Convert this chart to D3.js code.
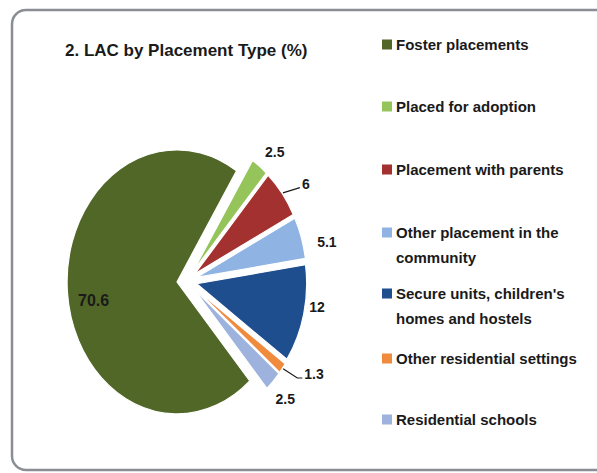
<!DOCTYPE html>
<meta charset="utf-8">
<style>
body { margin: 0; background: #fff; }
text { font-family: "Liberation Sans", Arial, sans-serif; fill: #1a1a1a; }
.title { font-size: 17px; font-weight: bold; }
.legend text { font-size: 15px; font-weight: bold; }
.label { font-size: 14px; font-weight: bold; }
.leader { fill: none; stroke: #1a1a1a; stroke-width: 1.2px; }
</style>
<svg width="597" height="473"></svg>
<script src="https://d3js.org/d3.v7.min.js"></script>
<script>
// data
var categories = ["Foster placements", "Placed for adoption", "Placement with parents",
    "Other placement in the community", "Secure units, children's homes and hostels",
    "Other residential settings", "Residential schools"];
var values = [70.6, 2.5, 6, 5.1, 12, 1.3, 2.5];
var legendLines = [["Foster placements"], ["Placed for adoption"], ["Placement with parents"],
    ["Other placement in the", "community"], ["Secure units, children's", "homes and hostels"],
    ["Other residential settings"], ["Residential schools"]];
var colors = ["#516728", "#95c55a", "#a3312f", "#8fb4e3", "#1f4e8e", "#f08a3c", "#9db3dd"];

var svg = d3.select("svg");

// frame
svg.append("rect")
    .attr("x", 12).attr("y", 10)
    .attr("width", 600).attr("height", 460)
    .attr("rx", 14)
    .attr("fill", "#fff")
    .attr("stroke", "#8a8d93")
    .attr("stroke-width", 2.5);

svg.append("text")
    .attr("class", "title")
    .attr("x", 65).attr("y", 56)
    .text("2. LAC by Placement Type (%)");

// pie
var cx = 187, cy = 281, sx = 0.833, r = 132, explode = 12;
var color = d3.scaleOrdinal().domain(categories).range(colors);

var pie = d3.pie()
    .sort(null)
    .value(function(d, i) { return values[i]; })
    .startAngle(138.6 * Math.PI / 180)
    .endAngle(138.6 * Math.PI / 180 + 2 * Math.PI);
var arcs = pie(categories);

var arc = d3.arc().innerRadius(0).outerRadius(r);

function mid(d) { return (d.startAngle + d.endAngle) / 2; }
// polar -> screen, with the horizontal squash of the picture
function pt(a, rad) {
  return [cx + sx * rad * Math.sin(a), cy - rad * Math.cos(a)];
}

var g = svg.append("g")
    .attr("transform", "translate(" + cx + "," + cy + ") scale(" + sx + ",1)");

g.selectAll("path")
    .data(arcs)
  .enter().append("path")
    .attr("transform", function(d) {
      var a = mid(d);
      return "translate(" + (explode * Math.sin(a)) + "," + (-explode * Math.cos(a)) + ")";
    })
    .attr("d", arc)
    .attr("fill", function(d) { return color(d.data); })
    .attr("stroke", "#fff")
    .attr("stroke-width", 1.2)
    .attr("vector-effect", "non-scaling-stroke");

// data labels: outside end, nudged like Excel's placement
var nudge = {
  "Foster placements": [3, 11],
  "Placed for adoption": [4, 3],
  "Placement with parents": [9, 3.5],
  "Other placement in the community": [8, 10.5],
  "Secure units, children's homes and hostels": [-4.6, -12],
  "Other residential settings": [17, -7.5],
  "Residential schools": [-1, 2.5]
};
var leaders = ["Placement with parents", "Other residential settings"];

var labels = svg.append("g");
arcs.forEach(function(d, i) {
  var inside = i === 0;
  var p = pt(mid(d), inside ? 116 : r + explode + 22);
  var n = nudge[d.data];
  var x = p[0] + n[0], y = p[1] + n[1];
  var t = labels.append("text")
      .attr("class", "label")
      .attr("x", x).attr("y", y)
      .attr("dy", "0.36em")
      .attr("text-anchor", "middle")
      .style("font-size", inside ? "16px" : null)
      .text(values[i]);
  if (leaders.indexOf(d.data) >= 0) {
    var w = t.node().getComputedTextLength();
    var s = pt(mid(d), r + explode + 1);
    var ex = x - w / 2 - 2, ey = y + 4;
    var path = d3.path();
    path.moveTo(s[0], s[1]);
    if (ey - s[1] > 6) {
      path.lineTo(ex - 5, ey);
    }
    path.lineTo(ex, ey);
    labels.append("path").attr("class", "leader").attr("d", path.toString());
  }
});

// legend
var legendRowY = [50, 112, 175, 238, 299, 364, 425];
var legend = svg.append("g").attr("class", "legend");
legendLines.forEach(function(lines, i) {
  var y = legendRowY[i];
  legend.append("rect")
      .attr("x", 382).attr("y", y - 10.5)
      .attr("width", 10).attr("height", 10)
      .attr("fill", colors[i]);
  var t = legend.append("text").attr("x", 396).attr("y", y);
  lines.forEach(function(line, j) {
    t.append("tspan").attr("x", 396).attr("dy", j ? 25 : 0).text(line);
  });
});
</script>
